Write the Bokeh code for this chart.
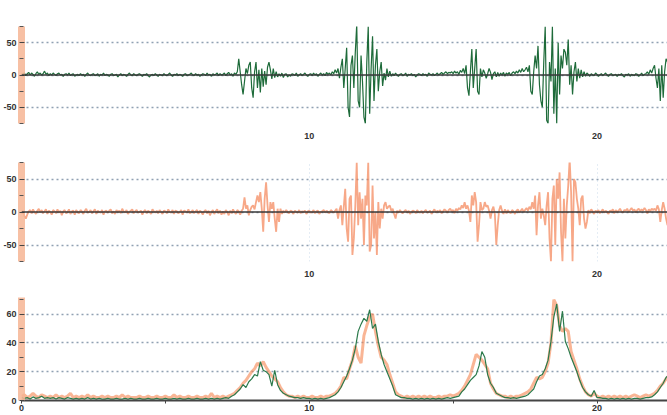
import numpy as np
from bokeh.plotting import figure
from bokeh.models import Range1d, FixedTicker, Span
from bokeh.layouts import column
from bokeh.embed import file_html
from bokeh.resources import INLINE

# sampling steps of the recorded series (time units along x)
DT_WAVE = 0.05
DT_ENV = 0.1

# panel 1: green waveform (one row = one x unit, 20 samples)
green_wave = [
    2, 1, 3, -1, 2, 4, 0, 3, 1, -2, 2, 5, 1, 3, 0, 2, 6, 1, 3, -1,
    2, 0, 3, 1, -1, 2, 3, 0, 1, -2, 1, 2, 0, 3, -1, 1, 2, -2, 0, 1,
    -1, 2, 0, 1, -2, 1, 3, 0, -1, 1, 2, -1, 0, 2, -2, 1, 0, 3, -1, 1,
    0, -2, 1, 2, -1, 0, 1, -3, 0, 2, -1, 1, 0, -2, 1, 3, 0, -1, 2, 0,
    -1, 1, 2, 0, -2, 1, 0, 2, -1, -3, 0, 1, -1, 2, 0, -2, 1, 0, -1, 2,
    0, -1, 1, 3, 0, -2, 1, 0, 2, -1, 1, 0, -2, 1, 2, -1, 0, 1, 3, 0,
    -1, 2, 0, 1, -2, 0, 2, 1, -1, 3, 0, 1, -2, 2, 0, 1, 3, -1, 2, 0,
    1, 3, -1, 2, 4, 0, 2, -2, 3, 1, 5, 25, 5, -15, -30, -10, 10, 2, 15, 20,
    -20, -35, 5, 20, -20, 8, -27, 10, -18, 6, -15, 12, 20, 8, -6, 10, -4, 5, -3, 2,
    -2, 3, -4, 1, 2, -3, 0, -2, 2, 1, -1, 3, -2, 0, 2, -1, 1, 3, 0, -2,
    1, 2, -1, 3, 0, 2, -2, 1, 3, 0, 2, -1, 4, 1, 3, 0, 5, 2, 8, 3,
    10, -5, 12, 25, -20, 10, 42, -50, -65, 15, 30, -20, 35, 78, -40, -50, 30, -10, -65, -75,
    20, 75, -60, 10, 60, -40, 15, 40, -25, 5, 20, -17, 3, -8, 10, -3, 6, -2, 2, -1,
    3, 0, -2, 1, 2, -1, 0, 3, -2, 1, 0, 2, -1, 1, -3, 0, 2, 1, -1, 2,
    0, 1, -2, 3, 1, 0, 2, -1, 1, 3, 0, 2, 4, 1, 3, 5, 2, 4, 3, 5,
    2, 6, 3, 5, 1, 7, 4, 10, 2, 15, -20, -32, 5, 40, -20, 10, 40, -25, -30, 10,
    -3, 8, 3, -5, 2, 10, 4, -7, 2, 5, -3, 4, -2, 3, 0, 4, -2, 3, 1, 4,
    -1, 3, 5, 2, 6, 3, 8, 4, 10, 5, 8, 12, 5, 15, -25, -30, 5, 30, 10, 45,
    -15, -40, -50, 20, 75, -70, -75, 20, -10, 75, -60, 10, -75, 50, -30, 30, 10, 40, 35, 15,
    55, -15, 15, -30, 5, 20, -10, 10, -5, 8, -3, 5, -2, 3, 1, -2, 2, 0, -1, 3,
    1, -2, 0, 2, -1, 1, 3, 0, -2, 1, 2, -1, 0, 1, -2, 1, 0, 2, -1, -3,
    1, 0, 2, -2, 1, 0, -1, 2, 1, -2, 0, 3, -1, 1, 2, 5, 1, 8, 3, 10,
    15, -5, -20, 10, -40, 15, -35, 5, 25, 20, -10,
]

# panel 2: orange waveform
orange_wave = [
    -3, 2, -6, -10, -4, 1, 3, -2, 4, 0, -3, 2, 5, -1, 3, -2, 1, 4, -3, 2,
    0, -4, 3, 1, -2, 4, -1, 2, -5, 1, 3, -2, 0, 4, -3, 1, 2, -4, 3, 0,
    -2, 3, 1, -3, 2, 5, -1, 0, 3, -2, 1, 4, -3, 2, 0, -1, 3, -4, 1, 2,
    -1, 2, 4, -2, 1, -3, 3, 0, 2, -2, 5, 1, -1, 3, -3, 0, 2, 4, -2, 1,
    3, -1, 0, 2, -4, 1, 3, -2, 2, 0, -3, 4, 1, -1, 2, -2, 3, 0, -3, 2,
    1, -2, 4, 0, -1, 3, -3, 2, 1, -2, 0, 3, -4, 2, 1, -1, 4, -2, 0, 3,
    -2, 1, 3, -3, 2, 0, -4, 1, 3, -2, 2, -5, 0, 3, -3, 1, 4, -2, 2, -4,
    1, -3, 3, 0, -5, 2, -2, 4, 0, -3, 3, 1, -4, 2, 5, 22, 5, 10, -5, 3,
    8, 10, 4, 15, 25, 15, 30, 5, -30, 20, 45, 10, -15, 15, 5, 15, -10, -30, 5, -15,
    5, -3, 2, -1, 3, 0, -2, 2, 1, -3, 2, 0, -1, 3, -2, 1, 0, 2, -3, 1,
    2, -1, 0, 3, -2, 1, 2, -3, 0, 1, 3, -1, 2, 0, -2, 3, 1, -1, 2, 5,
    -10, 3, 10, -20, 8, 35, -25, -45, 20, 25, -65, -40, 10, 75, -20, 30, -10, 20, -50, 25,
    10, 75, -60, -50, 40, -40, 0, -65, 15, -25, 5, -10, 10, 15, 5, 8, 10, 2, 5, -3,
    -10, 2, -1, 3, 0, -2, 1, 3, -1, 2, -3, 0, 2, 1, -2, 3, 0, -1, 2, -2,
    1, 3, -1, 0, 2, -3, 1, 4, -1, 2, 0, 3, -2, 1, 4, 2, -1, 3, 5, 1,
    3, -2, 5, 2, 6, 4, 10, 6, 15, 5, 10, 2, -15, 25, 10, 30, 15, -45, -20, 15,
    3, 5, 15, 8, 10, 2, -10, 3, 8, -3, -50, -20, 3, 10, 2, -3, 4, -2, 3, 0,
    -2, 3, 1, -3, 2, 4, -1, 2, 5, 0, 3, 6, 2, 8, 4, 15, 5, 25, -35, 10,
    30, -10, 5, -5, -20, 10, 30, -40, -75, 20, 40, -50, 50, 20, 60, -30, -75, 20, -40, 10,
    40, 80, 30, -75, 50, 45, 20, 5, -20, 20, 25, -10, -25, -15, 3, -2, 4, 1, -3, 2,
    0, 3, -2, 1, 4, -1, 2, 0, -3, 2, 1, 4, -2, 3, 0, 2, 5, 1, -1, 3,
    2, 5, 0, 3, 6, 2, 4, -1, 3, 5, 1, 4, 2, 6, 3, -2, 4, 1, 5, 3,
    5, 2, 10, 4, -15, 3, 15, 5, -10, -20, 3,
]

# panel 3: envelopes (one row = one x unit, 10 samples)
green_env = [
    2, 1.5, 2, 1, 2.5, 1.5, 2, 3, 1.5, 2,
    1.5, 2, 1, 2, 1.5, 1, 2, 1.5, 1, 1.5,
    1, 1.5, 1, 2, 1, 1.5, 1, 1.5, 1, 1,
    1.5, 1, 1, 1.5, 1, 1, 1.5, 1, 1.5, 1,
    1, 1.5, 1, 1, 1.5, 1, 1, 1.5, 1, 1,
    1.5, 1, 1, 1.5, 1, 1.5, 1, 1, 1.5, 1,
    1, 1.5, 1, 1, 1.5, 1, 1.5, 1, 1.5, 1,
    1.5, 2, 1.5, 3, 4, 6, 8, 11, 9, 13,
    15, 18, 17, 27, 21, 20, 18, 10, 21, 11,
    7, 5, 4, 3, 2.5, 2, 2, 1.5, 2, 1.5,
    1.5, 1, 1.5, 1, 1.5, 1, 1.5, 2, 3, 4,
    6, 9, 13, 17, 22, 28, 36, 48, 53, 57,
    55, 63, 50, 53, 41, 32, 25, 20, 15, 10,
    4, 3, 2, 2, 1.5, 1.5, 1, 1.5, 1, 1.5,
    1, 1.5, 1, 1.5, 1, 1.5, 1, 1.5, 2, 1.5,
    2, 2.5, 3, 6, 8, 11, 14, 16, 18, 24,
    34, 30, 18, 12, 9, 5, 4, 3, 2, 2,
    1.5, 2, 1.5, 2, 2.5, 3, 4, 6, 8, 13,
    17, 18, 22, 28, 41, 58, 67, 48, 62, 41,
    36, 30, 25, 20, 14, 9, 6, 4, 3, 7,
    2, 2, 1.5, 1.5, 1, 1.5, 1, 1.5, 1, 1.5,
    1, 1.5, 1, 1.5, 1.5, 1, 1.5, 2, 2, 2.5,
    4, 6, 9, 12, 16, 18,
]

orange_env = [
    3, 4, 2, 3, 5, 3, 2, 4, 3, 2,
    3, 2, 4, 2, 3, 2, 3, 5, 2, 3,
    2, 3, 2, 4, 2, 3, 2, 2, 3, 2,
    3, 2, 2, 3, 2, 4, 2, 3, 2, 2,
    2, 3, 2, 2, 3, 2, 2, 3, 2, 2,
    3, 2, 2, 4, 2, 3, 2, 2, 3, 2,
    2, 3, 2, 2, 3, 2, 5, 2, 3, 2,
    3, 2, 3, 4, 5, 7, 9, 12, 14, 17,
    20, 22, 26, 24, 27, 23, 20, 17, 15, 13,
    9, 6, 4, 3, 3, 2, 3, 2, 3, 2,
    2, 3, 2, 2, 3, 2, 3, 3, 4, 5,
    7, 10, 16, 15, 22, 28, 38, 30, 26, 45,
    52, 58, 60, 48, 38, 30, 28, 25, 18, 12,
    6, 4, 3, 2, 3, 2, 3, 2, 3, 2,
    3, 2, 3, 2, 2, 3, 2, 3, 3, 4,
    3, 4, 5, 7, 10, 14, 18, 25, 32, 30,
    28, 25, 22, 12, 8, 5, 4, 3, 3, 2,
    3, 2, 3, 3, 4, 5, 6, 8, 12, 16,
    15, 16, 20, 26, 40, 70, 66, 52, 48, 50,
    48, 34, 28, 22, 15, 10, 6, 4, 3, 5,
    3, 2, 3, 2, 3, 2, 3, 2, 3, 2,
    3, 2, 3, 4, 3, 2, 3, 4, 3, 4,
    5, 7, 10, 12, 15, 17,
]

wave_ticks = [-50, 0, 50]
wave_minor = [-75, -25, 25, 75]
env_ticks = [0, 20, 40, 60]
env_minor = [10, 30, 50, 70]
time_labels = [10, 20]
time_ticks = [0, 10, 20]
time_minor = [5, 15]

x_wave = np.arange(len(green_wave)) * DT_WAVE
x_env = np.arange(len(green_env)) * DT_ENV

FONT = "Liberation Sans"
LABEL_COLOR = "#333333"
GRID_COLOR = "#7d90a6"
BAND_COLOR = "#f6b594"
W = 667
X_END = 22.45


def make_fig(height, top, bottom, y0, y1):
    p = figure(width=W, height=height, x_range=Range1d(0, X_END),
               y_range=Range1d(y0, y1), output_backend="svg",
               toolbar_location=None, min_border_left=20,
               min_border_right=0, min_border_top=top,
               min_border_bottom=bottom)
    p.outline_line_color = None
    p.background_fill_color = "white"
    p.border_fill_color = "white"
    ya = p.yaxis[0]
    ya.axis_line_color = BAND_COLOR
    ya.axis_line_width = 7
    ya.axis_line_alpha = 0.85
    ya.major_tick_line_color = "#444444"
    ya.major_tick_in = 3
    ya.major_tick_out = 2
    ya.minor_tick_line_color = "#555555"
    ya.minor_tick_in = 2
    ya.minor_tick_out = 2
    ya.major_label_standoff = 3
    ya.major_label_text_font = FONT
    ya.major_label_text_font_size = "9px"
    ya.major_label_text_font_style = "bold"
    ya.major_label_text_color = LABEL_COLOR
    xa = p.xaxis[0]
    xa.major_label_text_font = FONT
    xa.major_label_text_font_size = "9px"
    xa.major_label_text_font_style = "bold"
    xa.major_label_text_color = LABEL_COLOR
    xa.major_label_standoff = 3
    p.ygrid.grid_line_color = GRID_COLOR
    p.ygrid.grid_line_dash = "2 3"
    p.ygrid.grid_line_width = 1.3
    p.ygrid.grid_line_alpha = 0.85
    p.xgrid.grid_line_color = None
    return p


def wave_axes(p):
    p.yaxis[0].ticker = FixedTicker(ticks=wave_ticks, minor_ticks=wave_minor)
    p.yaxis[0].major_label_overrides = {t: str(t) for t in wave_ticks}
    xa = p.xaxis[0]
    xa.ticker = FixedTicker(ticks=time_labels, minor_ticks=[])
    xa.axis_line_color = None
    xa.major_tick_line_color = None
    xa.minor_tick_line_color = None
    p.add_layout(Span(location=0, dimension="width", line_color="#3a3a3a",
                      line_width=1.5))


# panel 1
p1 = make_fig(141, 26, 15, -75, 75)
wave_axes(p1)
p1.line(x_wave, green_wave, line_color="#1e6b3a", line_width=1.2)

# panel 2
p2 = make_fig(138, 21, 15, -75, 75)
wave_axes(p2)
p2.xgrid.grid_line_color = "#a9c2dc"
p2.xgrid.grid_line_dash = "1 3"
p2.xgrid.grid_line_alpha = 0.6
p2.line(x_wave, orange_wave, line_color="#f27a48", line_width=1.8,
        line_alpha=0.65)

# panel 3
p3 = make_fig(136, 18, 15, 0, 71.5)
p3.yaxis[0].ticker = FixedTicker(ticks=env_ticks, minor_ticks=env_minor)
xa3 = p3.xaxis[0]
xa3.ticker = FixedTicker(ticks=time_ticks, minor_ticks=time_minor)
xa3.axis_line_color = "#444444"
xa3.axis_line_width = 2
xa3.major_tick_line_color = "#444444"
xa3.major_tick_in = 0
xa3.major_tick_out = 3
xa3.minor_tick_line_color = "#444444"
xa3.minor_tick_in = 0
xa3.minor_tick_out = 3
xa3.major_label_standoff = 1
p3.line(x_env, orange_env, line_color="#f5834f", line_width=3,
        line_alpha=0.6)
p3.line(x_env, green_env, line_color="#2b7a4b", line_width=1.2)

layout = column(p1, p2, p3, spacing=0)
open("out.html", "w").write(file_html(layout, INLINE))
